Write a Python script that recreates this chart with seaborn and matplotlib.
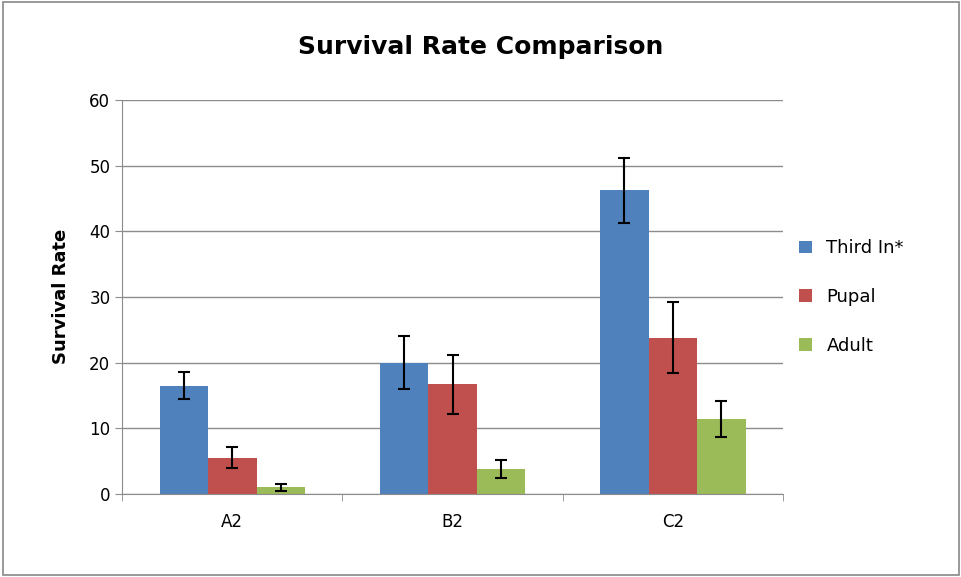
import pandas as pd
import seaborn as sns
from matplotlib import pyplot as plt

groups = ["A2", "B2", "C2"]
series = ["Third In*", "Pupal", "Adult"]
third = [16.5, 20.0, 46.2]
pupal = [5.5, 16.7, 23.8]
adult = [1.0, 3.8, 11.4]
third_err = [2.0, 4.0, 5.0]
pupal_err = [1.6, 4.5, 5.4]
adult_err = [0.5, 1.4, 2.8]

rows = []
for name, vals in zip(series, [third, pupal, adult]):
    for g, v in zip(groups, vals):
        rows.append({"group": g, "series": name, "value": v})
df = pd.DataFrame(rows)

sns.set_style("white")
plt.rcParams["text.color"] = "black"
plt.rcParams["axes.labelcolor"] = "black"
fig = plt.figure(figsize=(9.62, 5.77), dpi=100)
ax = fig.add_axes([0.127, 0.144, 0.687, 0.683])
sns.barplot(data=df, x="group", y="value", hue="series", ax=ax, width=0.66,
            palette=["#4F81BD", "#C0504D", "#9BBB59"], errorbar=None,
            saturation=1, linewidth=0)

for cont, errs in zip(ax.containers, [third_err, pupal_err, adult_err]):
    xs = [p.get_x() + p.get_width() / 2 for p in cont]
    ys = [p.get_height() for p in cont]
    ax.errorbar(xs, ys, yerr=errs, fmt="none", ecolor="black", elinewidth=1.5,
                capsize=4, capthick=1.5, zorder=5)

ax.set_xlim(-0.5, 2.5)
ax.set_ylim(0, 60)
ax.set_yticks(range(0, 61, 10))
ax.set_xticks([-0.5, 0.5, 1.5, 2.5], minor=True)
ax.tick_params(axis="x", which="major", length=0, pad=14)
ax.tick_params(axis="x", which="minor", length=5, color="#8c8c8c", bottom=True)
ax.yaxis.grid(True, color="#8c8c8c", linewidth=1)
ax.set_axisbelow(True)
for s in ["top", "right"]:
    ax.spines[s].set_visible(False)
for s in ["left", "bottom"]:
    ax.spines[s].set_color("#8c8c8c")
ax.tick_params(axis="both", labelsize=12, labelcolor="black")
ax.tick_params(axis="y", length=5, color="#8c8c8c", left=True)
ax.set_xlabel("")
ax.set_ylabel("Survival Rate", fontsize=13, fontweight="bold", labelpad=14)
fig.suptitle("Survival Rate Comparison", fontsize=18, fontweight="bold", y=0.94)
ax.legend(loc="center left", bbox_to_anchor=(1.0, 0.5), frameon=False,
          fontsize=13, handlelength=0.7, handleheight=0.7, labelspacing=1.7)

fig.patches.append(plt.Rectangle((0.003, 0.003), 0.994, 0.994, fill=False,
                                 edgecolor="#888888", linewidth=1.2,
                                 transform=fig.transFigure))
fig.savefig("out.png", dpi=100)
